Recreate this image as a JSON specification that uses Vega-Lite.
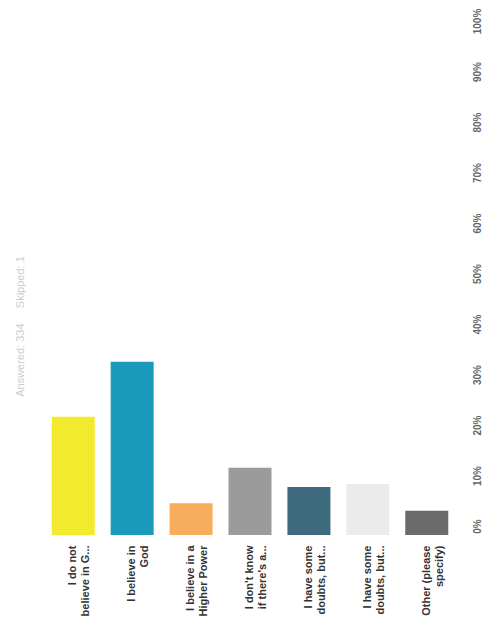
{
  "$schema": "https://vega.github.io/schema/vega-lite/v6.json",
  "autosize": {"type": "none"},
  "padding": {"left": 37, "top": 30, "right": 27, "bottom": 107},
  "width": 426,
  "height": 505,
  "background": "white",
  "title": {
    "text": "Answered: 334\u00a0\u00a0\u00a0\u00a0\u00a0Skipped: 1",
    "orient": "left",
    "anchor": "middle",
    "offset": 11,
    "dx": -44,
    "fontSize": 11,
    "fontWeight": "normal",
    "font": "Liberation Sans",
    "color": "#cccccc"
  },
  "data": {
    "values": [
      {"answer": "I do not|believe in G...", "pct": 23.4, "color": "#f2ea2c"},
      {"answer": "I believe in|God", "pct": 34.3, "color": "#1a9bbb"},
      {"answer": "I believe in a|Higher Power", "pct": 6.3, "color": "#f8ad5c"},
      {"answer": "I don't know|if there's a...", "pct": 13.3, "color": "#9b9b9b"},
      {"answer": "I have some|doubts, but...", "pct": 9.5, "color": "#3d6a7d"},
      {"answer": "I have some|doubts, but... ", "pct": 10.1, "color": "#ebebeb"},
      {"answer": "Other (please|specify)", "pct": 4.8, "color": "#6b6b6b"}
    ]
  },
  "mark": {"type": "bar"},
  "encoding": {
    "x": {
      "field": "answer",
      "type": "nominal",
      "sort": null,
      "scale": {"paddingInner": 0.27, "paddingOuter": 0.25},
      "axis": {
        "title": null,
        "labelAngle": -90,
        "labelAlign": "right",
        "labelBaseline": "middle",
        "labelExpr": "split(datum.label, '|')",
        "labelLineHeight": 13,
        "labelFont": "Liberation Sans",
        "labelFontSize": 11,
        "labelFontWeight": "bold",
        "labelColor": "#333333",
        "labelPadding": 10,
        "ticks": false,
        "domain": false,
        "labelLimit": 200
      }
    },
    "y": {
      "field": "pct",
      "type": "quantitative",
      "scale": {"domain": [0, 100]},
      "axis": {
        "orient": "right",
        "title": null,
        "values": [0, 10, 20, 30, 40, 50, 60, 70, 80, 90, 100],
        "labelExpr": "datum.value + '%'",
        "labelAngle": -90,
        "labelAlign": "center",
        "labelBaseline": "top",
        "labelOffset": -9,
        "labelPadding": 9,
        "labelFont": "Liberation Sans",
        "labelFontSize": 10,
        "labelFontWeight": "bold",
        "labelColor": "#666666",
        "ticks": false,
        "domain": false,
        "grid": false
      }
    },
    "color": {"field": "color", "type": "nominal", "scale": null, "legend": null}
  },
  "config": {"view": {"stroke": null}}
}
